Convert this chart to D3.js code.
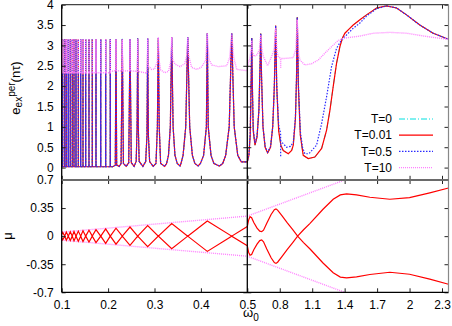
<!DOCTYPE html>
<html>
<head>
<meta charset="utf-8">
<script src="https://cdn.jsdelivr.net/npm/d3@7"></script>
<style>
  body { margin: 0; background: #fff; }
  text { font-family: "Liberation Sans", Arial, sans-serif; }
</style>
</head>
<body>
<script>
// dense, very narrow resonances at low omega_0 (same for all T, only the base differs)
const sharpW = [0.1003, 0.1008, 0.1013, 0.1022, 0.1065, 0.1099, 0.1142, 0.1185, 0.1228, 0.1265, 0.1308,
  0.1358, 0.1409, 0.1459, 0.1517, 0.1588, 0.1659, 0.1739, 0.1841, 0.1948, 0.2047]
const sharpTop = [3.15, 3.15, 3.15, 3.15, 3.15, 3.15, 3.15, 3.15, 3.15, 3.15, 3.15,
  3.15, 3.15, 3.15, 3.15, 3.15, 3.15, 3.15, 3.15, 3.15, 3.15]
const coldBase = 0.02
const hotBase = 2.33

// T=0.01 (T=0 lies on top of it), omega_0 from 0.21 to 0.5
const coldMid = [
  [0.21, 0.02], [0.2155, 0.06], [0.217, 3.15], [0.2185, 0.06], [0.224, 0.03],
  [0.228, 0.1], [0.2306, 3.16], [0.233, 0.1], [0.239, 0.03],
  [0.2445, 0.12], [0.2472, 3.16], [0.25, 0.12], [0.256, 0.03],
  [0.2605, 0.15], [0.2625, 1.0], [0.2638, 3.17], [0.2651, 1.0], [0.267, 0.15], [0.275, 0.03],
  [0.281, 0.15], [0.2838, 0.8], [0.2853, 3.17], [0.2868, 0.8], [0.2895, 0.15], [0.297, 0.03],
  [0.3032, 0.1], [0.3062, 1.0], [0.3082, 3.18], [0.3102, 1.0], [0.3132, 0.1], [0.322, 0.03],
  [0.326, 0.1], [0.3301, 0.3], [0.3341, 1.0], [0.3371, 3.2], [0.3401, 1.0], [0.3441, 0.3], [0.349, 0.1], [0.355, 0.04],
  [0.357, 0.1], [0.3616, 0.3], [0.3673, 1.0], [0.3716, 3.2], [0.3759, 1.0], [0.3816, 0.3], [0.387, 0.1], [0.394, 0.04],
  [0.399, 0.1], [0.4058, 0.3], [0.4118, 1.0], [0.4138, 3.3], [0.4158, 1.0], [0.4218, 0.3], [0.428, 0.1], [0.44, 0.04],
  [0.447, 0.1], [0.4534, 0.3], [0.461, 1.0], [0.4664, 3.3], [0.4718, 1.0], [0.4794, 0.3], [0.487, 0.14], [0.5, 0.14]
]
const coldRight = [
  [0.5, 0.14], [0.515, 0.3], [0.527, 0.8], [0.535, 2.0], [0.541, 3.18], [0.547, 2.0], [0.555, 0.9],
  [0.571, 0.55], [0.59, 0.75], [0.607, 1.4], [0.617, 2.4], [0.624, 3.29], [0.632, 2.2], [0.645, 1.0],
  [0.665, 0.5], [0.688, 0.36], [0.715, 0.5], [0.735, 1.0], [0.75, 2.0], [0.762, 3.49], [0.772, 2.0],
  [0.79, 0.9], [0.81, 0.55], [0.832, 0.42], [0.879, 0.34], [0.91, 0.42], [0.925, 0.55], [0.945, 1.2],
  [0.955, 2.2], [0.962, 3.69], [0.972, 2.0], [0.99, 0.8], [1.017, 0.3], [1.063, 0.22], [1.125, 0.26],
  [1.187, 0.47], [1.233, 0.92], [1.264, 1.41], [1.294, 1.99], [1.325, 2.56], [1.356, 2.97], [1.38, 3.18],
  [1.402, 3.3], [1.44, 3.4], [1.479, 3.5], [1.541, 3.63], [1.602, 3.75], [1.695, 3.92], [1.787, 3.97],
  [1.88, 3.92], [1.972, 3.75], [2.095, 3.5], [2.218, 3.3], [2.36, 3.15]
]
// T=0.5
const warmRight = [
  [0.5, 0.14], [0.515, 0.32], [0.527, 0.85], [0.535, 2.0], [0.541, 3.18], [0.547, 2.0], [0.555, 0.95],
  [0.571, 0.6], [0.59, 0.78], [0.607, 1.4], [0.617, 2.4], [0.624, 3.29], [0.632, 2.2], [0.645, 1.0],
  [0.665, 0.52], [0.688, 0.38], [0.715, 0.52], [0.735, 1.0], [0.75, 2.0], [0.762, 3.49], [0.772, 2.0],
  [0.79, 1.05], [0.808, 0.84], [0.8085, 0.26], [0.809, 0.66], [0.817, 0.63], [0.863, 0.5], [0.9, 0.52],
  [0.925, 0.62], [0.945, 1.25], [0.955, 2.2], [0.962, 3.69], [0.972, 2.1], [0.99, 0.9], [1.01, 0.5],
  [1.032, 0.34], [1.07, 0.34], [1.14, 0.55], [1.187, 1.08], [1.233, 1.74], [1.279, 2.48], [1.325, 2.93],
  [1.371, 3.13], [1.433, 3.3], [1.479, 3.42], [1.541, 3.55], [1.602, 3.72], [1.695, 3.9], [1.787, 3.97],
  [1.88, 3.92], [1.972, 3.75], [2.095, 3.5], [2.218, 3.3], [2.36, 3.15]
]
// T=10
const hotMid = [
  [0.205, 2.36], [0.2165, 2.38], [0.217, 3.15], [0.2175, 2.38], [0.23, 2.37], [0.2306, 3.15], [0.2312, 2.37],
  [0.2465, 2.38], [0.2472, 3.15], [0.2479, 2.38], [0.263, 2.36], [0.2638, 3.15], [0.2646, 2.36],
  [0.2832, 2.32], [0.2845, 2.5], [0.2853, 3.17], [0.2861, 2.5], [0.294, 2.41], [0.3, 2.42], [0.306, 2.6],
  [0.3082, 3.2], [0.3104, 2.6], [0.3133, 2.4], [0.322, 2.33], [0.33, 2.36], [0.335, 2.6], [0.3371, 3.2],
  [0.3392, 2.65], [0.3442, 2.54], [0.355, 2.48], [0.365, 2.55], [0.3695, 2.75], [0.3716, 3.2], [0.3737, 2.75],
  [0.3801, 2.46], [0.3909, 2.41], [0.4005, 2.46], [0.41, 2.62], [0.4138, 3.3], [0.4176, 2.66], [0.4233, 2.52],
  [0.4375, 2.48], [0.4556, 2.5], [0.462, 2.7], [0.4664, 3.3], [0.4708, 2.7], [0.4772, 2.41], [0.4987, 2.38]
]
const hotRight = [
  [0.4987, 2.38], [0.51, 2.56], [0.525, 2.7], [0.535, 2.9], [0.541, 3.12], [0.547, 2.85], [0.562, 2.73],
  [0.59, 2.77], [0.612, 2.9], [0.624, 3.26], [0.635, 2.9], [0.648, 2.73], [0.688, 2.5], [0.725, 2.73],
  [0.748, 2.9], [0.762, 3.42], [0.775, 2.85], [0.786, 2.73], [0.808, 2.68], [0.8085, 2.44], [0.809, 2.68],
  [0.848, 2.68], [0.925, 2.7], [0.948, 2.9], [0.962, 3.63], [0.975, 2.8], [0.987, 2.64], [1.032, 2.52],
  [1.094, 2.55], [1.156, 2.64], [1.217, 2.81], [1.279, 2.97], [1.34, 3.12], [1.402, 3.18], [1.541, 3.23],
  [1.664, 3.3], [1.818, 3.32], [1.972, 3.3], [2.156, 3.22], [2.36, 3.15]
]

// Floquet exponent mu, T=0.01, both branches
const muUp = [
  [0.1, 0.02], [0.1022, 0.047], [0.1065, 0], [0.1099, 0.051], [0.1142, 0], [0.1185, 0.055], [0.1228, 0],
  [0.1265, 0.059], [0.1308, 0], [0.1358, 0.063], [0.1409, 0], [0.1459, 0.068], [0.1517, 0], [0.1588, 0.074],
  [0.1659, 0], [0.1739, 0.081], [0.1841, 0], [0.1948, 0.09], [0.2047, 0], [0.217, 0.1], [0.2306, 0],
  [0.2472, 0.114], [0.2638, 0], [0.2853, 0.132], [0.3082, 0], [0.3371, 0.156], [0.3716, 0], [0.4138, 0.19],
  [0.4664, 0], [0.5, 0.12], [0.512, 0.2], [0.525, 0.243], [0.54, 0.23], [0.56, 0.17], [0.59, 0.1],
  [0.615, 0.062], [0.633, 0.056], [0.65, 0.075], [0.68, 0.16], [0.72, 0.27], [0.75, 0.33], [0.765, 0.34],
  [0.78, 0.325], [0.82, 0.255], [0.87, 0.165], [0.92, 0.08], [0.965, 0], [1.02, 0.08], [1.08, 0.16],
  [1.2, 0.335], [1.294, 0.46], [1.36, 0.514], [1.418, 0.526], [1.51, 0.514], [1.633, 0.485], [1.818, 0.46],
  [2.0, 0.48], [2.187, 0.54], [2.36, 0.6]
]
const muDown = [
  [0.1, -0.02], [0.1022, -0.047], [0.1065, 0], [0.1099, -0.051], [0.1142, 0], [0.1185, -0.055], [0.1228, 0],
  [0.1265, -0.059], [0.1308, 0], [0.1358, -0.063], [0.1409, 0], [0.1459, -0.068], [0.1517, 0], [0.1588, -0.074],
  [0.1659, 0], [0.1739, -0.081], [0.1841, 0], [0.1948, -0.09], [0.2047, 0], [0.217, -0.1], [0.2306, 0],
  [0.2472, -0.114], [0.2638, 0], [0.2853, -0.132], [0.3082, 0], [0.3371, -0.156], [0.3716, 0], [0.4138, -0.19],
  [0.4664, 0], [0.5, -0.12], [0.512, -0.2], [0.525, -0.238], [0.54, -0.23], [0.56, -0.17], [0.59, -0.1],
  [0.615, -0.055], [0.633, -0.047], [0.65, -0.07], [0.68, -0.16], [0.72, -0.27], [0.75, -0.33], [0.765, -0.34],
  [0.78, -0.325], [0.82, -0.255], [0.87, -0.165], [0.92, -0.08], [0.965, 0], [1.02, -0.08], [1.08, -0.16],
  [1.2, -0.335], [1.294, -0.455], [1.36, -0.51], [1.418, -0.52], [1.51, -0.508], [1.633, -0.478], [1.818, -0.45],
  [2.0, -0.475], [2.187, -0.535], [2.36, -0.6]
]
// T=10 branches coincide with +-omega_0/2
const envUp = [[0.1, 0.05], [1.5, 0.75]]
const envDown = [[0.1, -0.05], [1.5, -0.75]]

const eTicks = [0, 0.5, 1, 1.5, 2, 2.5, 3, 3.5, 4]
const muTicks = [-0.7, -0.35, 0, 0.35, 0.7]
const wTicksL = [0.1, 0.2, 0.3, 0.4, 0.5]
const wTicksR = [0.5, 0.8, 1.1, 1.4, 1.7, 2, 2.3]
const legendLabels = ['T=0', 'T=0.01', 'T=0.5', 'T=10']

// build the spike trains from the resonance list
const spikes = (base) => sharpW.flatMap((w, i) => [[w, base], [w, sharpTop[i]], [w, base]])
const cold = [[0.1, coldBase]].concat(spikes(coldBase), coldMid, coldRight)
const warm = [[0.1, coldBase]].concat(spikes(coldBase), coldMid, warmRight)
const hot = [[0.1, hotBase]].concat(spikes(hotBase), hotMid, hotRight)

const styles = {
  t0: {stroke: '#00e0e0', dash: '6,2,1,2', w: 1},
  t001: {stroke: '#ff0000', dash: null, w: 1.2},
  t05: {stroke: '#2a2aff', dash: '1.5,1.5', w: 1.2},
  t10: {stroke: '#ff80ff', dash: '1,1', w: 1.4}
}

const W = 452, H = 326
const svg = d3.select('body').append('svg').attr('width', W).attr('height', H)

const xL = d3.scaleLinear().domain([0.1, 0.5]).range([61.7, 247.3])
const xR = d3.scaleLinear().domain([0.5, 2.36]).range([247.3, 448.5])
const yT = d3.scaleLinear().domain([-0.3, 4]).range([179.8, 4.7])
const yB = d3.scaleLinear().domain([-0.7, 0.7]).range([292.3, 180])

const panels = [
  {id: 'tl', x: xL, y: yT, xt: wTicksL, yt: eTicks},
  {id: 'tr', x: xR, y: yT, xt: wTicksR, yt: eTicks},
  {id: 'bl', x: xL, y: yB, xt: wTicksL, yt: muTicks},
  {id: 'br', x: xR, y: yB, xt: wTicksR, yt: muTicks}
]

const defs = svg.append('defs')
panels.forEach(p => {
  const [x0, x1] = p.x.range(), [y1, y0] = p.y.range()
  defs.append('clipPath').attr('id', 'clip-' + p.id)
    .append('rect').attr('x', x0).attr('y', y0).attr('width', x1 - x0).attr('height', y1 - y0)
  p.g = svg.append('g').attr('clip-path', `url(#clip-${p.id})`)
})

function draw(p, data, st) {
  const line = d3.line().x(d => p.x(d[0])).y(d => p.y(d[1]))
  p.g.append('path').datum(data)
    .attr('d', line)
    .attr('fill', 'none')
    .attr('stroke', st.stroke)
    .attr('stroke-width', st.w)
    .attr('stroke-dasharray', st.dash)
}

panels.slice(0, 2).forEach(p => {
  draw(p, cold, styles.t0)
  draw(p, cold, styles.t001)
  draw(p, warm, styles.t05)
  draw(p, hot, styles.t10)
})
panels.slice(2).forEach(p => {
  draw(p, envUp, styles.t10)
  draw(p, envDown, styles.t10)
  draw(p, muUp, styles.t001)
  draw(p, muDown, styles.t001)
})

// ticks, mirrored on every side and pointing inwards
const fmt = d => String(d)
panels.forEach(p => {
  const [x0, x1] = p.x.range(), [y1, y0] = p.y.range()
  const leftLab = p.x === xL
  const bottomLab = p.y === yB
  const axes = [
    [d3.axisLeft(p.y).tickValues(p.yt).tickFormat(leftLab ? fmt : ''), `translate(${x0},0)`],
    [d3.axisRight(p.y).tickValues(p.yt).tickFormat(''), `translate(${x1},0)`],
    [d3.axisTop(p.x).tickValues(p.xt).tickFormat(''), `translate(0,${y0})`],
    [d3.axisBottom(p.x).tickValues(bottomLab && leftLab ? p.xt.slice(0, -1) : p.xt)
      .tickFormat(bottomLab ? fmt : ''), `translate(0,${y1})`]
  ]
  axes.forEach(([ax, tr]) => {
    const g = svg.append('g').attr('transform', tr)
      .call(ax.tickSize(-4).tickPadding(8))
    g.select('.domain').remove()
    g.selectAll('line').attr('stroke', '#222')
    g.selectAll('text').attr('font-size', 12).attr('font-family', '"Liberation Sans", Arial, sans-serif').attr('fill', '#000')
  })
})

// frame
const fx0 = xL.range()[0], fx1 = xR.range()[1], fy0 = yT.range()[1], fy1 = yB.range()[0], mid = xL.range()[1]
const frame = [
  [fx0, fy0, fx0, fy1, '#000', 1.3],
  [fx0, fy1, fx1, fy1, '#000', 1.3],
  [mid, fy0, mid, fy1, '#000', 1.3],
  [fx0, fy0, fx1, fy0, '#444', 1.2],
  [fx1, fy0, fx1, fy1, '#888', 1.2],
  [fx0, 180, fx1, 180, '#6a6a6a', 1.8]
]
svg.selectAll('.frame').data(frame).enter().append('line')
  .attr('x1', d => d[0]).attr('y1', d => d[1]).attr('x2', d => d[2]).attr('y2', d => d[3])
  .attr('stroke', d => d[4]).attr('stroke-width', d => d[5])

// legend
const leg = svg.append('g').attr('font-size', 12)
const legKeys = ['t0', 't001', 't05', 't10']
legendLabels.forEach((lab, i) => {
  const yy = 119 + i * 16.2
  leg.append('text').attr('x', 392).attr('y', yy).attr('dy', '0.35em')
    .attr('text-anchor', 'end').text(lab)
  const st = styles[legKeys[i]]
  leg.append('line').attr('x1', 399).attr('x2', 433).attr('y1', yy).attr('y2', yy)
    .attr('stroke', st.stroke).attr('stroke-width', st.w).attr('stroke-dasharray', st.dash)
})

// axis titles
const yl = svg.append('text').attr('transform', 'translate(19.5,88) rotate(-90)')
  .attr('text-anchor', 'middle').attr('font-size', 13)
yl.append('tspan').text('e')
yl.append('tspan').attr('font-size', 10).attr('dy', 2).text('ex')
yl.append('tspan').attr('font-size', 10).attr('dy', -7).text('per')
yl.append('tspan').attr('dy', 5).text('(nτ)')

svg.append('text').attr('transform', 'translate(12,236) rotate(-90)')
  .attr('text-anchor', 'middle').attr('font-size', 13).text('μ')

const xl = svg.append('text').attr('x', 243).attr('y', 317).attr('font-size', 13)
xl.append('tspan').text('ω')
xl.append('tspan').attr('font-size', 10).attr('dy', 4).text('0')
</script>
</body>
</html>
